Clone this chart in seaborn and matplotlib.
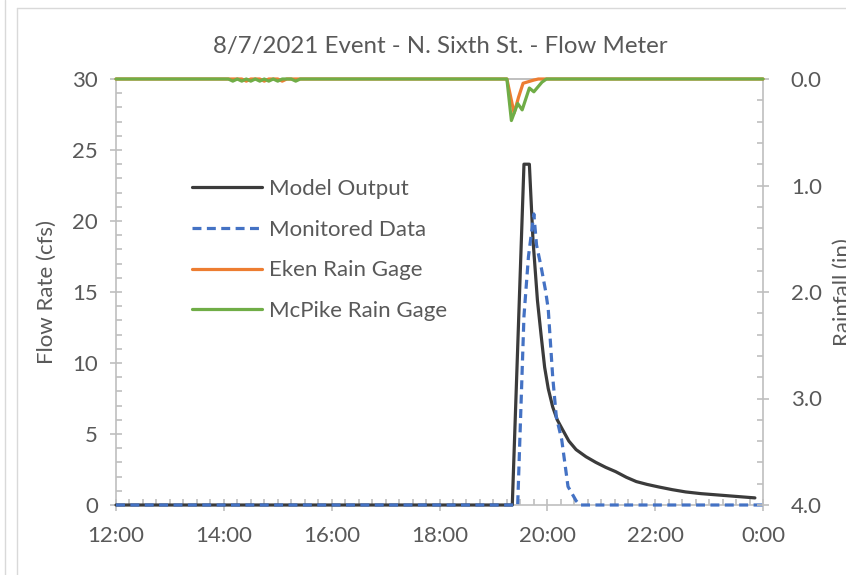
import matplotlib
matplotlib.use("Agg")
import matplotlib.pyplot as plt
import seaborn as sns
import pandas as pd
from matplotlib.lines import Line2D
from matplotlib.ticker import MultipleLocator, FixedLocator, FixedFormatter

# ---------------- data ----------------
model_times = ["12:00", "19:21", "19:34", "19:40", "19:44", "19:49", "19:53", "19:57",
               "20:01", "20:06", "20:11", "20:17", "20:24", "20:32", "20:43", "20:54",
               "21:05", "21:16", "21:28", "21:39", "21:51", "22:04", "22:19", "22:34",
               "22:51", "23:11", "23:31", "23:51"]
model_flow = [0, 0, 24, 24, 18.7, 14.4, 12.0, 9.7,
              8.2, 6.9, 6.0, 5.3, 4.5, 3.9, 3.4, 3.0,
              2.65, 2.35, 1.95, 1.65, 1.45, 1.27, 1.08, 0.92,
              0.8, 0.7, 0.6, 0.5]

monitored_times = ["12:00", "19:27", "19:34", "19:39", "19:45", "19:48", "19:53", "19:58",
                   "20:01", "20:06", "20:10", "20:16", "20:23", "20:32", "20:36", "0:00"]
monitored_flow = [0, 0, 13.3, 17.5, 20.5, 18.3, 16.8, 15.1,
                  13.8, 9.0, 6.2, 4.6, 1.3, 0.3, 0, 0]

eken_times = ["12:00", "14:20", "14:25", "14:30", "14:40", "14:45", "14:50", "15:00",
              "15:05", "15:10", "19:15", "19:23", "19:28", "19:33", "19:45", "19:50", "0:00"]
eken_rain = [0, 0, 0.02, 0, 0, 0.02, 0, 0,
             0.02, 0, 0, 0.32, 0.17, 0.04, 0.01, 0, 0]

mcpike_times = ["12:00", "14:05", "14:10", "14:15", "14:20", "14:25", "14:30", "14:35",
                "14:40", "14:45", "14:50", "14:55", "15:00", "15:05", "15:15", "15:20",
                "15:25", "19:15", "19:20", "19:27", "19:32", "19:40", "19:45", "19:54",
                "19:59", "0:00"]
mcpike_rain = [0, 0, 0.02, 0, 0.02, 0, 0.02, 0,
               0.02, 0, 0.02, 0, 0.02, 0, 0, 0.02,
               0, 0, 0.39, 0.23, 0.29, 0.085, 0.12, 0.03,
               0, 0]

x_tick_labels = ["12:00", "14:00", "16:00", "18:00", "20:00", "22:00", "0:00"]
flow_ticks = [0, 5, 10, 15, 20, 25, 30]
rain_ticks = [0.0, 1.0, 2.0, 3.0, 4.0]
rain_tick_labels = ["0.0", "1.0", "2.0", "3.0", "4.0"]

title = "8/7/2021 Event - N. Sixth St. - Flow Meter"
series_names = ["Model Output", "Monitored Data", "Eken Rain Gage", "McPike Rain Gage"]


def to_h(t):
    hh, mm = t.split(":")
    h = int(hh) + int(mm) / 60.0
    if h < 12:
        h += 24
    return h


def frame(times, vals):
    return pd.DataFrame({"t": [to_h(t) for t in times], "v": vals})


# ---------------- style ----------------
sns.set_theme(style="white")
FONT = ["Lato", "DejaVu Sans"]
plt.rcParams["font.family"] = FONT
TXT = "#595959"
AX = "#BFBFBF"
C_MODEL = "#3B3B3B"
C_MON = "#4472C4"
C_EKEN = "#ED7D31"
C_MCP = "#70AD47"
FS = 16

W, H = 846, 575
fig = plt.figure(figsize=(W / 100, H / 100), dpi=100)
L, R, T, B = 116, 763, 79, 505
ax = fig.add_axes([L / W, 1 - B / H, (R - L) / W, (B - T) / H])
ax2 = ax.twinx()

lw = 2.3
dash = (0, (2.8, 1.7))
sns.lineplot(data=frame(model_times, model_flow), x="t", y="v", ax=ax,
             color=C_MODEL, linewidth=lw, sort=False, zorder=3, clip_on=False)
sns.lineplot(data=frame(monitored_times, monitored_flow), x="t", y="v", ax=ax,
             color=C_MON, linewidth=lw, linestyle=dash, sort=False, zorder=4, clip_on=False)
sns.lineplot(data=frame(eken_times, eken_rain), x="t", y="v", ax=ax2,
             color=C_EKEN, linewidth=lw, sort=False, zorder=3, clip_on=False)
sns.lineplot(data=frame(mcpike_times, mcpike_rain), x="t", y="v", ax=ax2,
             color=C_MCP, linewidth=lw, sort=False, zorder=4, clip_on=False)

ax.set_xlim(12, 24)
ax.set_ylim(0, 30)
ax2.set_ylim(4, 0)

ax.xaxis.set_major_locator(FixedLocator([12 + 2 * i for i in range(len(x_tick_labels))]))
ax.xaxis.set_major_formatter(FixedFormatter(x_tick_labels))
ax.xaxis.set_minor_locator(MultipleLocator(0.25))
ax.yaxis.set_major_locator(FixedLocator(flow_ticks))
ax.yaxis.set_minor_locator(MultipleLocator(1))
ax2.yaxis.set_major_locator(FixedLocator(rain_ticks))
ax2.yaxis.set_major_formatter(FixedFormatter(rain_tick_labels))
ax2.yaxis.set_minor_locator(MultipleLocator(0.2))

for a in (ax, ax2):
    for s in a.spines.values():
        s.set_color(AX)
        s.set_linewidth(1.2)
    a.set_xlabel("")
    a.set_ylabel("")
# the secondary axes must not paint over the primary series
ax2.spines["bottom"].set_visible(False)
ax2.spines["left"].set_visible(False)
ax.spines["right"].set_visible(False)

ax.tick_params(axis="both", which="major", direction="inout", length=8, width=1.2,
               color=AX, labelcolor=TXT, labelsize=FS)
ax.tick_params(axis="y", which="major", pad=9)
ax.tick_params(axis="x", which="major", pad=11)
ax.tick_params(axis="both", which="minor", direction="in", length=4, width=1.2, color=AX)
ax.tick_params(axis="x", which="both", bottom=True, top=False)
ax.tick_params(axis="y", which="both", left=True, right=False)
ax2.tick_params(axis="y", which="major", direction="inout", length=8, width=1.2,
                color=AX, labelcolor=TXT, labelsize=FS, pad=16, right=True)
ax2.tick_params(axis="y", which="minor", direction="in", length=4, width=1.2,
                color=AX, right=True)

fig.text(47 / W, 1 - 292 / H, "Flow Rate (cfs)", rotation=90, ha="center", va="center",
         color=TXT, fontsize=FS)
fig.text(833 / W, 1 - 292 / H, "Rainfall (in)", rotation=90, ha="left", va="center",
         color=TXT, fontsize=FS)
fig.text(440 / W, 1 - 46 / H, title, ha="center", va="center", color=TXT, fontsize=17.3)

handles = [
    Line2D([], [], color=C_MODEL, lw=lw),
    Line2D([], [], color=C_MON, lw=lw, linestyle=dash),
    Line2D([], [], color=C_EKEN, lw=lw),
    Line2D([], [], color=C_MCP, lw=lw),
]
leg = ax2.legend(handles, series_names, loc="upper left",
                 bbox_to_anchor=(172 / W, 1 - 159 / H), bbox_transform=fig.transFigure,
                 frameon=False, fontsize=FS, handlelength=3.15, handletextpad=0.3,
                 labelspacing=0.93)
for t in leg.get_texts():
    t.set_color(TXT)

# chart-area border lines
for (x0, y0, x1, y1) in [(5, 0, 5, H), (17, 8, 17, H), (17, 8, W, 8)]:
    fig.add_artist(Line2D([x0 / W, x1 / W], [1 - y0 / H, 1 - y1 / H],
                          transform=fig.transFigure, color="#D9D9D9", lw=1.0))

fig.savefig("out.png", dpi=100)
